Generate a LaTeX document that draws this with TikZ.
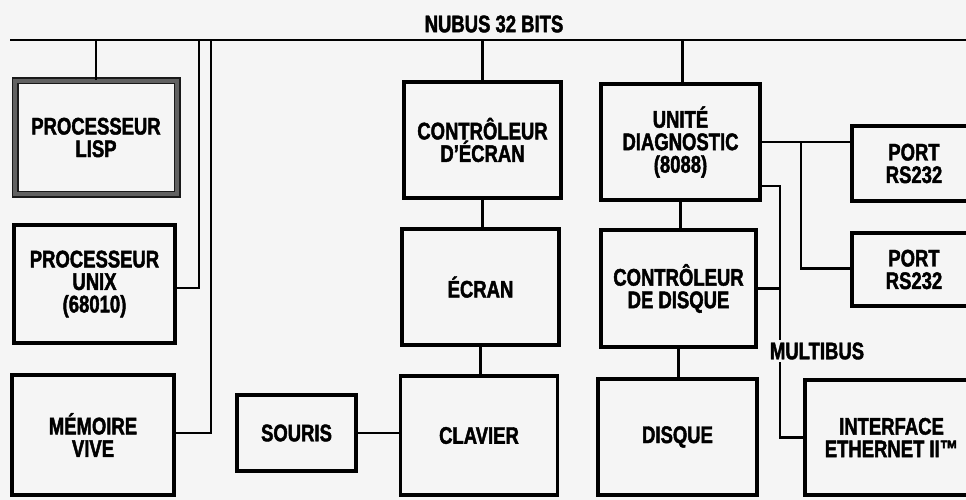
\documentclass[tikz,border=0pt]{standalone}
\usepackage{fontspec}
\setmainfont{Liberation Sans}[FakeStretch=0.77,BoldFeatures={FakeBold=1.8}]
\usetikzlibrary{positioning}
\definecolor{paper}{gray}{0.96}

\begin{document}
\begin{tikzpicture}[
  x=1pt,y=-1pt,
  blk/.style={draw,rectangle,line width=3.4pt,minimum width=157pt,minimum height=116pt,inner sep=2pt,font=\fontsize{24}{22.5}\selectfont\bfseries,align=center},
  cpu/.style={blk,draw=black!90,line width=1.8pt,double=black!62,double distance=3.4pt},
  port/.style={blk,minimum width=124pt,minimum height=74pt},
  lbl/.style={font=\fontsize{24}{22.5}\selectfont\bfseries,inner xsep=1pt,inner ysep=3pt},
  wire/.style={line width=2.8pt}
]
\useasboundingbox[fill=paper] (0,0) rectangle (966,500);

% left column
\node[cpu,minimum width=162pt,minimum height=113pt] (lisp) at (96,137.5) {PROCESSEUR\\LISP};
\node[blk,minimum width=161pt,minimum height=118pt] (unix) at (94.5,284) {PROCESSEUR\\UNIX\\(68010)};
\node[blk,minimum width=162pt,minimum height=120pt] (memoire) at (93,435) {MÉMOIRE\\VIVE};
\node[blk,minimum width=119pt,minimum height=76pt] (souris) at (296.5,433) {SOURIS};

% display column
\node[blk] (ctrlecran) at (482.5,140) {CONTRÔLEUR\\D'ÉCRAN};
\node[blk] (ecran) at (480.5,287) {ÉCRAN};
\node[blk,minimum height=119pt] (clavier) at (479,435.5) {CLAVIER};

% disk column
\node[blk,minimum width=159pt] (diag) at (680.5,142) {UNITÉ\\DIAGNOSTIC\\(8088)};
\node[blk,minimum width=155pt,minimum height=117pt] (ctrldisque) at (678.5,288.5) {CONTRÔLEUR\\DE DISQUE};
\node[blk,minimum width=159pt] (disque) at (677.5,437) {DISQUE};

% right side
\node[port,minimum height=75pt] (port1) at (914,163.5) {PORT\\RS232};
\node[port,minimum height=73pt] (port2) at (914,269.5) {PORT\\RS232};
\node[blk,minimum width=173pt,minimum height=115pt] (ether) at (891.5,437.5) {INTERFACE\\ETHERNET II™};

% nubus
\coordinate (busW) at (10,40);
\coordinate (busE) at (966,40);
\coordinate (tapU) at (199,40);
\coordinate (tapM) at (211,40);
\draw[wire] (busW) -- (busE);
\draw[wire] (lisp.north) -- (lisp.north |- busW);
\draw[wire] ([yshift=-4pt]unix.east) -| (tapU);
\draw[wire] ([yshift=2pt]memoire.east) -| (tapM);
\draw[wire] (ctrlecran.north) -- (ctrlecran.north |- busW);
\draw[wire] (ctrlecran.south) -- (ctrlecran.south |- ecran.north);
\draw[wire] (ecran.south) -- (ecran.south |- clavier.north);
\draw[wire] (souris.east) -- (souris.east -| clavier.west);
\draw[wire] ([xshift=2pt]diag.north) -- ([xshift=2pt]diag.north |- busW);
\draw[wire] (diag.south) -- (diag.south |- ctrldisque.north);
\draw[wire] (ctrldisque.south) -- (ctrldisque.south |- disque.north);

% serial ports
\coordinate (tapP) at (801,143);
\draw[wire] (diag.east) -- (diag.east -| port1.west);
\draw[wire] (diag.east -| tapP) |- ([yshift=1pt]port2.west);

% multibus
\coordinate (mbus) at (780,186);
\draw[wire] (diag.east |- mbus) -- (mbus) |- (ether.west);
\draw[wire] (ctrldisque.east) -- (ctrldisque.east -| mbus);
\node[lbl,fill=paper] (mblabel) at (817,351) {MULTIBUS};

\node[lbl] (nubus) at (494,24) {NUBUS 32 BITS};

\end{tikzpicture}
\end{document}
